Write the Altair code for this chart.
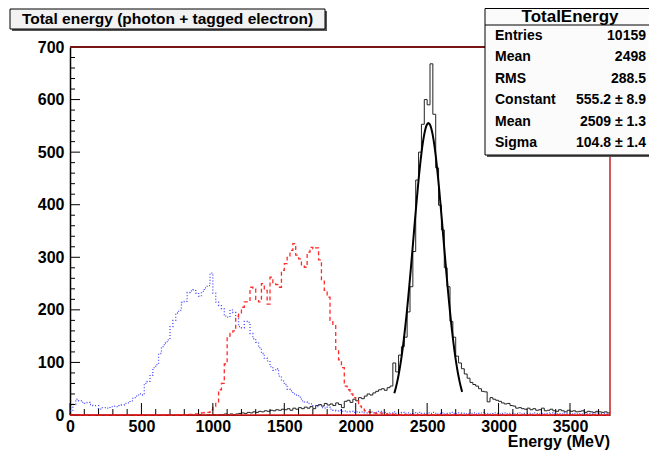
import altair as alt
import pandas as pd

BIN_WIDTH = 20
X_MAX = 3780

# counts per 20 MeV bin, bins start at 0, 20, 40, ... 3760
black_counts = [
    0, 0, 0, 0, 0, 0, 0, 0, 0, 0,
    0, 0, 0, 0, 0, 0, 0, 0, 0, 0,
    0, 0, 0, 0, 0, 0, 0, 0, 0, 0,
    0, 0, 0, 0, 0, 0, 0, 0, 0, 0,
    0, 0, 0, 0, 0, 1, 0, 0, 1, 0,
    1, 0, 1, 1, 2, 1, 2, 1, 2, 3,
    4, 3, 5, 4, 6, 5, 7, 6, 8, 7,
    9, 8, 10, 9, 11, 10, 12, 9, 13, 11,
    14, 12, 15, 13, 16, 12, 18, 20, 17, 22,
    19, 21, 18, 23, 20, 14, 26, 28, 24, 30,
    27, 33, 31, 36, 40, 38, 42, 45, 48, 50,
    47, 52, 55, 99, 82, 114, 130, 148, 196, 244,
    311, 447, 500, 553, 600, 590, 668, 572, 470, 399,
    352, 280, 244, 178, 148, 112, 99, 88, 78, 70,
    62, 58, 55, 50, 45, 44, 25, 33, 30, 28,
    26, 23, 21, 22, 18, 17, 13, 14, 12, 11,
    13, 10, 12, 9, 10, 13, 8, 9, 11, 8,
    7, 10, 8, 6, 9, 7, 8, 6, 7, 8,
    5, 7, 6, 5, 7, 6, 5, 6, 4,
]

blue_counts = [
    8, 20, 30, 27, 24, 22, 24, 20, 18, 18,
    11, 14, 14, 13, 16, 17, 16, 18, 19, 22,
    23, 27, 33, 36, 40, 38, 60, 64, 76, 90,
    96, 117, 130, 137, 143, 168, 180, 194, 199, 214,
    216, 233, 236, 238, 232, 226, 235, 242, 246, 270,
    232, 215, 208, 202, 188, 186, 200, 195, 188, 168,
    166, 178, 176, 155, 145, 138, 128, 117, 108, 103,
    92, 85, 88, 74, 65, 58, 49, 46, 40, 38,
    34, 27, 25, 22, 21, 18, 16, 19, 14, 13,
    15, 11, 9, 8, 9, 7, 8, 6, 7, 5,
    6, 5, 6, 4, 5, 6, 4, 5, 7, 4,
    5, 3, 4, 6, 3, 4, 5, 3, 4, 2,
    4, 3, 5, 3, 2, 4, 3, 5, 2, 3,
    4, 2, 3, 5, 3, 2, 4, 3, 2, 3,
    3, 4, 2, 3, 5, 2, 3, 2, 4, 3,
    2, 3, 4, 2, 3, 2, 3, 4, 2, 3,
    3, 2, 4, 3, 2, 3, 2, 3, 4, 2,
    2, 3, 2, 4, 3, 2, 3, 2, 3, 2,
    3, 2, 3, 2, 4, 2, 3, 2, 3,
]

red_counts = [
    0, 0, 0, 0, 0, 0, 0, 0, 0, 0,
    0, 0, 0, 0, 0, 0, 0, 0, 0, 0,
    0, 0, 0, 0, 0, 0, 0, 0, 0, 0,
    0, 0, 0, 0, 0, 0, 0, 0, 0, 0,
    0, 1, 1, 2, 2, 3, 4, 5, 5, 10,
    16, 22, 48, 60, 97, 150, 155, 160, 186, 192,
    205, 215, 218, 243, 240, 220, 215, 250, 237, 211,
    262, 250, 248, 243, 275, 288, 300, 313, 326, 304,
    297, 285, 281, 310, 319, 316, 318, 295, 256, 237,
    224, 180, 170, 125, 105, 90, 55, 48, 40, 33,
    27, 17, 11, 8, 6, 5, 4, 3, 4, 2,
    2, 1, 2, 1, 1, 0, 1, 0, 1, 0,
    0, 0, 0, 0, 0, 0, 0, 0, 0, 0,
    0, 0, 0, 0, 0, 0, 0, 0, 0, 0,
    0, 0, 0, 0, 0, 0, 0, 0, 0, 0,
    0, 0, 0, 0, 0, 0, 0, 0, 0, 0,
    0, 0, 0, 0, 0, 0, 0, 0, 0, 0,
    0, 0, 0, 0, 0, 0, 0, 0, 0, 0,
    0, 0, 0, 0, 0, 0, 0, 0, 0,
]

# Gaussian fit parameters (from the stats box) and drawn range
fit_constant = 555.2
fit_mean = 2509
fit_sigma = 104.8
fit_range = [2270, 2745]

title_text = "Total energy (photon + tagged electron)"
x_title = "Energy (MeV)"
stats_title = "TotalEnergy"
stats_labels = ["Entries", "Mean", "RMS", "Constant", "Mean", "Sigma"]
stats_values = ["10159", "2498", "288.5", "555.2 \u00b1 8.9", "2509 \u00b1 1.3", "104.8 \u00b1 1.4"]

x_tick_values = [0, 500, 1000, 1500, 2000, 2500, 3000, 3500]
y_tick_values = [0, 100, 200, 300, 400, 500, 600, 700]
x_minor_values = [v for v in range(0, 3780, 100) if v % 500 != 0]
y_minor_values = [v for v in range(0, 701, 20) if v % 100 != 0]

W, H = 540, 368
FONT = "Liberation Sans"


def hist_df(counts):
    n = len(counts)
    edges = [i * BIN_WIDTH for i in range(n)] + [n * BIN_WIDTH]
    vals = list(counts) + [counts[-1]]
    return pd.DataFrame({"e": edges, "v": vals})


xs = alt.Scale(domain=[0, X_MAX], nice=False, zero=False)
ys = alt.Scale(domain=[0, 700], nice=False, zero=False)

xaxis = alt.Axis(values=x_tick_values, format="d", ticks=False, grid=False, title=None,
                 labelFont=FONT, labelFontSize=16, labelFontWeight="bold", labelColor="black",
                 labelPadding=3, labelFlush=False, labelOverlap=False,
                 domainColor="black", domainWidth=1)
yaxis = alt.Axis(values=y_tick_values, format="d", ticks=False, grid=False, title=None,
                 labelFont=FONT, labelFontSize=16, labelFontWeight="bold", labelColor="black",
                 labelPadding=6, labelOverlap=False, labelFlush=False,
                 domainColor="black", domainWidth=1.5)


def X(f):
    return alt.X(f"{f}:Q", scale=xs, axis=xaxis)


def Y(f):
    return alt.Y(f"{f}:Q", scale=ys, axis=yaxis)


black = alt.Chart(hist_df(black_counts)).mark_line(
    interpolate="step-after", color="#222222", strokeWidth=1
).encode(x=X("e"), y=Y("v"))

blue = alt.Chart(hist_df(blue_counts)).mark_line(
    interpolate="step-after", color="#4a4aff", strokeWidth=1.3, strokeDash=[1, 2]
).encode(x=X("e"), y=Y("v"))

red = alt.Chart(hist_df(red_counts)).mark_line(
    interpolate="step-after", color="#ff2a2a", strokeWidth=1.3, strokeDash=[4, 3]
).encode(x=X("e"), y=Y("v"))

fit = alt.Chart(alt.sequence(fit_range[0], fit_range[1] + 1, 5, as_="e")).transform_calculate(
    v=f"{fit_constant}*exp(-pow(datum.e-{fit_mean},2)/(2*{fit_sigma}*{fit_sigma}))"
).mark_line(color="black", strokeWidth=2).encode(x=X("e"), y=Y("v"))

xt_major = alt.Chart(pd.DataFrame({"t": x_tick_values})).mark_rule(color="black", strokeWidth=1).encode(
    x=X("t"), y=alt.value(H), y2=alt.value(H - 12))
xt_minor = alt.Chart(pd.DataFrame({"t": x_minor_values})).mark_rule(color="black", strokeWidth=1).encode(
    x=X("t"), y=alt.value(H), y2=alt.value(H - 6))
yt_major = alt.Chart(pd.DataFrame({"t": y_tick_values})).mark_rule(color="black", strokeWidth=1).encode(
    y=Y("t"), x=alt.value(0), x2=alt.value(10))
yt_minor = alt.Chart(pd.DataFrame({"t": y_minor_values})).mark_rule(color="black", strokeWidth=1).encode(
    y=Y("t"), x=alt.value(0), x2=alt.value(5))

one = pd.DataFrame({"k": [0]})

frame_top = alt.Chart(one).mark_rule(color="#7a1515", strokeWidth=2).encode(
    x=alt.value(0), x2=alt.value(W), y=alt.value(0))
frame_right = alt.Chart(one).mark_rule(color="#c02020", strokeWidth=1.5).encode(
    x=alt.value(W), y=alt.value(0), y2=alt.value(H))
frame_bottom = alt.Chart(one).mark_rule(color="#e01818", strokeWidth=1.5).encode(
    x=alt.value(0), x2=alt.value(W), y=alt.value(H))


def rect(x1, x2, y1, y2, fill, stroke=None, sw=1):
    kw = dict(fill=fill, strokeWidth=sw)
    if stroke:
        kw["stroke"] = stroke
    return alt.Chart(one).mark_rect(**kw).encode(
        x=alt.value(x1), x2=alt.value(x2), y=alt.value(y1), y2=alt.value(y2))


def text(s, x, y, size, align="left"):
    return alt.Chart(one).mark_text(text=s, font=FONT, fontWeight="bold", fontSize=size,
                                    align=align, baseline="middle", color="black").encode(
        x=alt.value(x), y=alt.value(y))


# title box
tb = [
    rect(-58, 257, -36, -16, "#555555"),
    rect(-60, 255, -38, -18, "#f2f2f2", "black", 1),
    text(title_text, 97.5, -28, 15.5, "center"),
]

# stats box
sb = [
    rect(417, 600, -36, 110, "#555555"),
    rect(415, 600, -38.5, 108, "#fbfbfb", "black", 1),
    alt.Chart(one).mark_rule(color="black", strokeWidth=1).encode(
        x=alt.value(415), x2=alt.value(600), y=alt.value(-22)),
    text(stats_title, 500, -30, 17, "center"),
]
for i, (lab, val) in enumerate(zip(stats_labels, stats_values)):
    yy = -11 + i * 21.4
    sb.append(text(lab, 425, yy, 14, "left"))
    sb.append(text(val, 576, yy, 14, "right"))

xlabel = alt.Chart(one).mark_text(text=x_title, font=FONT, fontWeight="bold", fontSize=16,
                                  align="right", baseline="alphabetic", color="black").encode(
    x=alt.value(W), y=alt.value(400))

chart = alt.layer(
    black, blue, red, fit, xt_major, xt_minor, yt_major, yt_minor,
    frame_top, frame_right, frame_bottom, *tb, *sb, xlabel
).properties(
    width=W, height=H,
    padding={"left": 62, "top": 39, "right": 39, "bottom": 35},
    autosize=alt.AutoSizeParams(type="none"),
    background="white",
).configure_view(stroke=None)

chart.save("out.html", embed_options={"renderer": "svg", "actions": False})
